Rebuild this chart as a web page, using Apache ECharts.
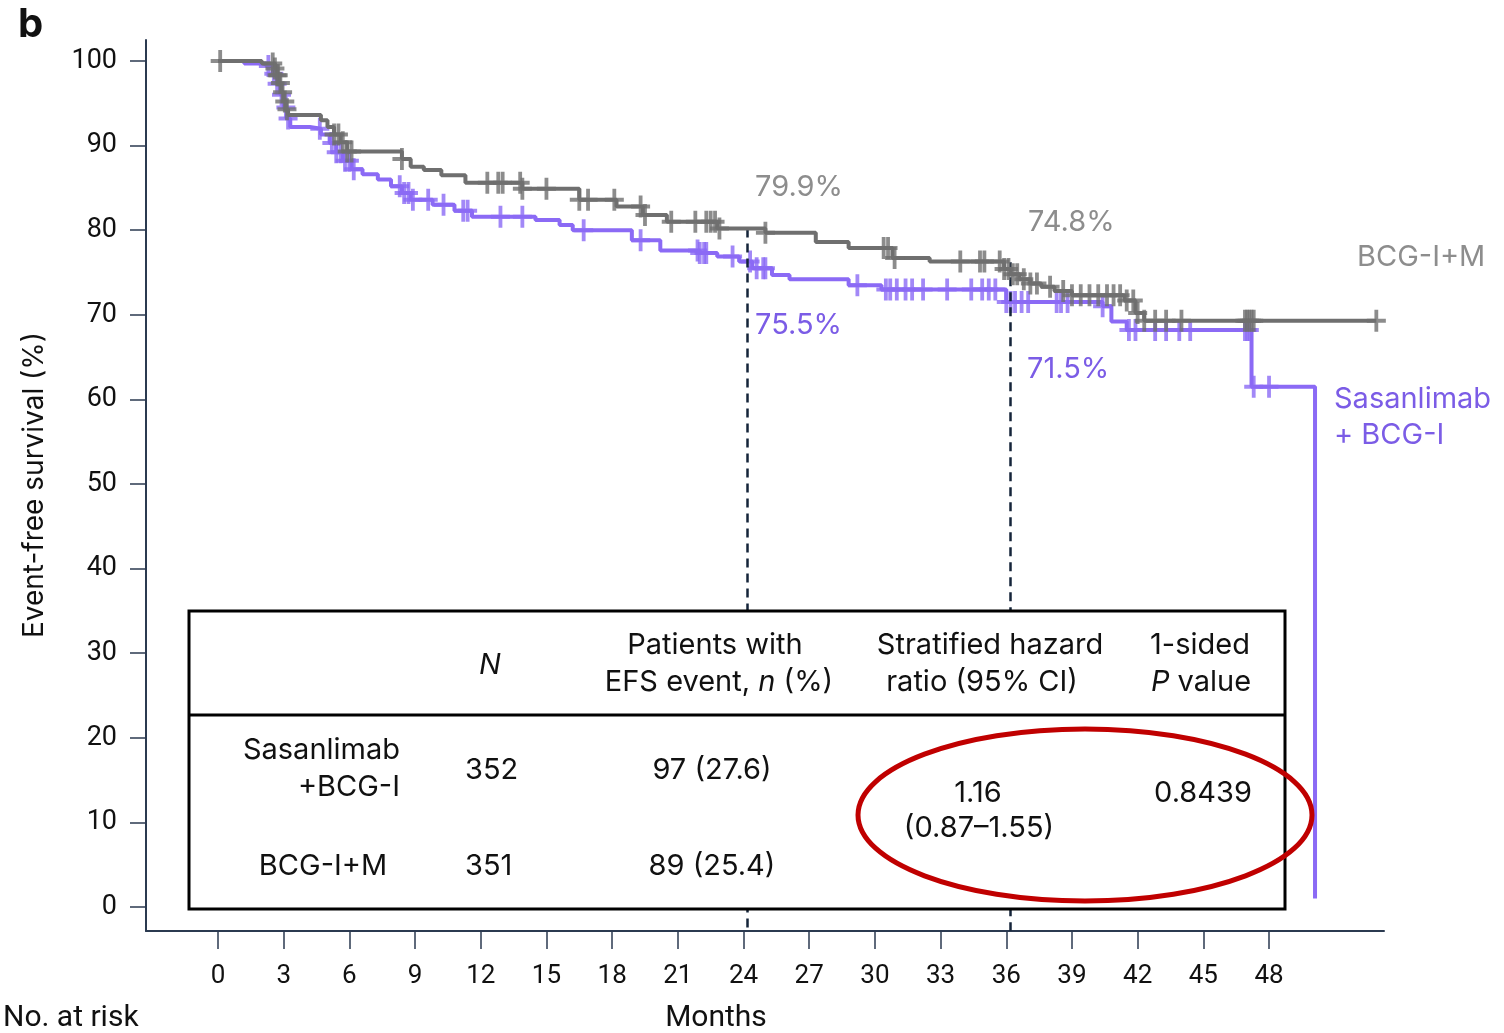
<!DOCTYPE html>
<html>
<head>
<meta charset="utf-8">
<script src="https://cdn.jsdelivr.net/npm/echarts@6/dist/echarts.min.js"></script>
<style>html,body{margin:0;padding:0;background:#fff}#c{width:1504px;height:1033px}</style>
</head>
<body>
<div id="c"></div>
<script>
// ---- data ----
var xTicks = [0,3,6,9,12,15,18,21,24,27,30,33,36,39,42,45,48];
var yTicks = [0,10,20,30,40,50,60,70,80,90,100];

// BCG-I+M Kaplan-Meier steps [month, survival %]
var grayCurve = [[0,100],[2.0,99.7],[2.6,99.1],[2.7,98.3],[2.8,97.4],[2.9,96.3],[3.0,95.2],[3.1,94.3],[3.2,93.6],
 [4.7,93.0],[5.0,92.2],[5.3,91.3],[5.6,90.4],[5.9,89.3],[8.4,88.4],[8.8,87.5],[9.4,87.1],[10.2,86.5],[11.3,85.6],
 [13.9,84.9],[16.5,83.6],[18.2,82.8],[19.4,81.8],[20.5,81.0],[22.8,80.2],[25.0,79.7],[27.3,78.6],[28.8,77.9],
 [30.8,76.7],[32.5,76.3],[35.9,75.4],[36.2,74.8],[36.6,74.2],[37.1,73.7],[37.6,73.3],[38.2,72.8],[39.0,72.3],
 [41.4,71.7],[41.9,70.2],[42.3,69.3],[52.9,69.3]];
// Sasanlimab + BCG-I Kaplan-Meier steps
var purpleCurve = [[0,100],[1.2,99.7],[2.2,99.4],[2.5,98.5],[2.7,97.3],[2.85,96.0],[3.0,94.5],[3.15,93.2],[3.3,92.2],
 [4.2,92.0],[4.7,91.3],[5.1,90.3],[5.4,89.2],[5.7,88.2],[6.1,87.2],[6.6,86.6],[7.3,86.0],[7.9,85.2],[8.4,84.4],
 [8.8,83.6],[9.8,83.0],[10.8,82.3],[11.6,81.6],[14.5,81.2],[15.6,80.6],[16.2,80.0],[18.9,78.8],[20.2,77.6],
 [22.0,77.3],[22.8,76.9],[23.8,76.3],[24.4,75.5],[25.3,74.7],[26.1,74.2],[28.8,73.5],[30.3,73.0],[36.0,71.5],
 [40.4,71.0],[40.8,69.2],[41.5,68.2],[47.2,61.5],[50.1,1.0]];

// censoring times (months)
var grayCensor = [0.1,2.5,2.6,2.7,2.75,2.85,2.95,3.05,3.15,5.3,5.5,5.7,5.9,6.1,8.4,12.3,12.8,13.0,13.8,13.9,15.0,16.5,16.9,
 18.1,19.3,19.5,20.7,21.8,22.3,22.5,22.7,22.9,25.0,30.4,30.6,30.9,33.9,34.8,35.0,35.7,35.9,36.1,36.3,36.5,36.8,37.1,37.4,
 38.0,38.6,39.0,39.4,39.8,40.2,40.6,40.9,41.2,41.5,41.8,42.0,42.3,42.8,43.3,44.0,46.9,47.0,47.1,47.2,47.3,52.9];
var purpleCensor = [2.3,2.55,2.7,2.9,3.1,3.2,4.65,5.2,5.4,5.6,5.8,6.0,6.2,8.3,8.5,8.7,8.9,9.6,10.3,11.2,11.4,12.9,13.9,16.7,
 19.3,21.9,22.0,22.2,22.3,23.5,24.3,24.6,24.9,25.0,29.2,30.5,30.7,31.0,31.4,31.7,32.2,33.3,34.4,34.9,35.2,35.5,36.0,36.2,
 36.4,36.7,37.0,38.3,38.5,38.8,40.4,41.6,41.9,42.8,43.3,43.9,44.4,46.9,47.0,47.1,47.3,48.0];

// landmark estimates
var landmarks = [24.16, 36.17];
var grayLandmark = ['79.9%','74.8%'];
var purpleLandmark = ['75.5%','71.5%'];

// table content
var tblN = ['352','351'];
var tblEvents = ['97 (27.6)','89 (25.4)'];
var tblHR = ['1.16','(0.87\u20131.55)'];
var tblP = '0.8439';

// ---- helpers ----
function survAt(curve, t){ var s = curve[0][1]; for (var i=0;i<curve.length;i++){ if (curve[i][0] <= t) s = curve[i][1]; } return s; }
function censorPts(curve, times){ return times.map(function(t){ return [t, survAt(curve, t)]; }); }

var GRAY = '#6f6f6f', PURPLE = '#8b6af5', GRAYT = '#8d8d8d', PURPLET = '#7b5ce6', AX = '#2b3a50';
var PLUS = 'path://M-2,-11h4v22h-4z M-10,-2h20v4h-20z';
var FONT = 'Roboto, "Noto Sans", sans-serif';
var TFONT = 'Inter, Roboto, sans-serif';

var chart = echarts.init(document.getElementById('c'));

function txt(x, y, s, opt){
  opt = opt || {};
  return { type:'text', x:x, y:y, z:100, rotation: opt.rot || 0,
    style:{ text:s, fontSize: opt.size || 29, fontFamily: opt.font || TFONT, fill: opt.color || '#111',
      fontWeight: opt.weight || 'normal', fontStyle: opt.style || 'normal',
      textAlign: opt.align || 'left', textVerticalAlign:'middle', rich: opt.rich } };
}
var italRich = { i:{ fontStyle:'italic', fontSize:29, fontFamily:TFONT, fill:'#111' } };

var graphics = [
  txt(18, 25, 'b', {size:40, weight:'bold'}),
  txt(35, 485, 'Event-free survival (%)', {size:28, rot:Math.PI/2, align:'center'}),
  txt(3, 1018, 'No. at risk', {size:30, font:FONT}),
  txt(716, 1018, 'Months', {size:30, font:FONT, align:'center'}),
  txt(755, 187, grayLandmark[0], {color:GRAYT}),
  txt(755, 325, purpleLandmark[0], {color:PURPLET}),
  txt(1028, 222, grayLandmark[1], {color:GRAYT}),
  txt(1027, 369, purpleLandmark[1], {color:PURPLET}),
  txt(1357, 257, 'BCG-I+M', {color:GRAYT}),
  txt(1334, 399, 'Sasanlimab', {color:PURPLET}),
  txt(1334, 435, '+ BCG-I', {color:PURPLET}),
  // table
  { type:'rect', z:90, shape:{x:189, y:611, width:1096, height:298}, style:{fill:'#fff', stroke:'#000', lineWidth:3} },
  { type:'line', z:91, shape:{x1:189, y1:715, x2:1285, y2:715}, style:{stroke:'#000', lineWidth:3} },
  txt(490, 665, '{i|N}', {align:'center', rich:italRich}),
  txt(715, 645, 'Patients with', {align:'center'}),
  txt(719, 682, 'EFS event, {i|n} (%)', {align:'center', rich:italRich}),
  txt(990, 645, 'Stratified hazard', {align:'center'}),
  txt(982, 682, 'ratio (95% CI)', {align:'center'}),
  txt(1200, 645, '1-sided', {align:'center'}),
  txt(1201, 682, '{i|P} value', {align:'center', rich:italRich}),
  txt(400, 750, 'Sasanlimab', {align:'right'}),
  txt(400, 787, '+BCG-I', {align:'right'}),
  txt(465, 770, tblN[0]),
  txt(712, 770, tblEvents[0], {align:'center'}),
  txt(323, 866, 'BCG-I+M', {align:'center'}),
  txt(465, 866, tblN[1]),
  txt(712, 866, tblEvents[1], {align:'center'}),
  txt(978, 793, tblHR[0], {align:'center'}),
  txt(979, 828, tblHR[1], {align:'center'}),
  txt(1203, 793, tblP, {align:'center'}),
  { type:'ellipse', z:110, shape:{cx:1085, cy:815, rx:227, ry:86}, style:{fill:'none', stroke:'#c00000', lineWidth:5} }
];

var option = {
  animation:false,
  grid:{ left:146, right:120, top:40, bottom:102 },
  xAxis:{ type:'value', min:-3.288, max:53.25,
    axisLine:{ onZero:false, lineStyle:{ color:AX, width:2 } },
    axisTick:{ customValues:xTicks, length:18, lineStyle:{ color:AX, width:1.5 } },
    axisLabel:{ customValues:xTicks, margin:32, fontSize:26, color:'#111', fontFamily:FONT },
    splitLine:{ show:false } },
  yAxis:{ type:'value', min:-2.84, max:102.48,
    axisLine:{ show:true, onZero:false, lineStyle:{ color:AX, width:2 } },
    axisTick:{ show:true, customValues:yTicks, length:16, lineStyle:{ color:AX, width:1.5 } },
    axisLabel:{ customValues:yTicks, margin:29, fontSize:27, color:'#111', fontFamily:FONT },
    splitLine:{ show:false } },
  graphic: graphics,
  series:[
    { type:'line', step:'end', data:purpleCurve, symbol:'none', lineStyle:{ color:PURPLE, width:4 }, z:3,
      markLine:{ silent:true, symbol:['none','none'], label:{show:false}, animation:false,
        lineStyle:{ color:'#15243a', width:2.5, type:[9,6] },
        data:[ [ {coord:[landmarks[0], survAt(grayCurve, landmarks[0])]}, {coord:[landmarks[0], -2.8]} ],
               [ {coord:[landmarks[1], survAt(grayCurve, landmarks[1])+0.8]}, {coord:[landmarks[1], -2.8]} ] ] } },
    { type:'scatter', data:censorPts(purpleCurve, purpleCensor), symbol:PLUS, symbolSize:[19,22],
      itemStyle:{ color:PURPLE }, z:4 },
    { type:'line', step:'end', data:grayCurve, symbol:'none', lineStyle:{ color:GRAY, width:4 }, z:5 },
    { type:'scatter', data:censorPts(grayCurve, grayCensor), symbol:PLUS, symbolSize:[19,22],
      itemStyle:{ color:GRAY }, z:6 }
  ]
};
chart.setOption(option);
</script>
</body>
</html>
